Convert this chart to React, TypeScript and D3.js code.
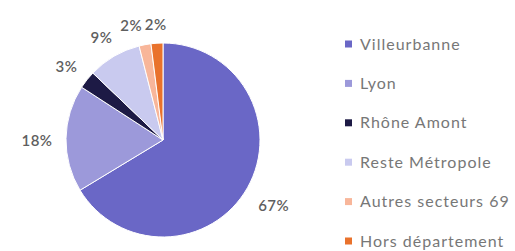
import React from "react";
import * as d3 from "d3";

const categories = ["Villeurbanne", "Lyon", "Rhône Amont", "Reste Métropole", "Autres secteurs 69", "Hors département"];
const values = [67, 18, 3, 9, 2, 2];
const colors = ["#6a67c6", "#9c99da", "#1d1a45", "#c9caef", "#f8b69a", "#e9722c"];

const CX = 163;
const CY = 140;
const RADIUS = 97;
const LABEL_GAP = 15;
const LABEL_FONT = 15;

// rough text width for the label layout
function textWidth(s: string) {
  return s.length * LABEL_FONT * 0.62;
}

export default function App() {
  const pie = d3.pie<number>().sort(null).value((d) => d);
  const arcs = pie(values);
  const arcGen = d3.arc<d3.PieArcDatum<number>>().innerRadius(0).outerRadius(RADIUS);
  const legendY = d3.scalePoint<string>().domain(categories).range([44, 241]);

  // outside-end labels: push the box out so its nearest side sits at R + gap
  const labels = arcs.map((a, i) => {
    const txt = values[i] + "%";
    const mid = (a.startAngle + a.endAngle) / 2;
    const s = Math.sin(mid);
    const c = -Math.cos(mid);
    const hw = textWidth(txt) / 2;
    const hh = 6;
    const r = RADIUS + LABEL_GAP + hw * Math.abs(s) + hh * Math.abs(c);
    return { txt, x: r * s, y: r * c + 3, hw: (txt.length * LABEL_FONT * 0.78) / 2 };
  });
  // keep neighbouring labels from sitting on top of each other
  for (let i = labels.length - 1; i > 0; i--) {
    const a = labels[i - 1];
    const b = labels[i];
    if (Math.abs(a.y - b.y) < 12) {
      const overlap = a.x + a.hw - (b.x - b.hw);
      if (overlap > 0) a.x -= overlap + 1;
    }
  }

  return (
    <svg width={515} height={251} style={{ position: "absolute", left: 0, top: 0, fontFamily: "Lato, sans-serif" }}>
      <rect width={515} height={251} fill="#fff" />
      <g transform={`translate(${CX},${CY})`}>
        {arcs.map((a, i) => (
          <path key={i} d={arcGen(a) || ""} fill={colors[i]} stroke="#fff" strokeWidth={1} />
        ))}
        {labels.map((l, i) => (
          <text key={i} x={l.x} y={l.y} dy="0.35em" textAnchor="middle" fontSize={LABEL_FONT} letterSpacing={0.5}
            fontWeight={600} fill="#5f5f5f">
            {l.txt}
          </text>
        ))}
      </g>
      {categories.map((c, i) => (
        <g key={c} transform={`translate(345,${legendY(c)})`}>
          <rect x={0} y={-3.5} width={7} height={7} fill={colors[i]} />
          <text x={15} y={0} dy="0.35em" fontSize={16} letterSpacing={1} fill="#777">{c}</text>
        </g>
      ))}
    </svg>
  );
}
